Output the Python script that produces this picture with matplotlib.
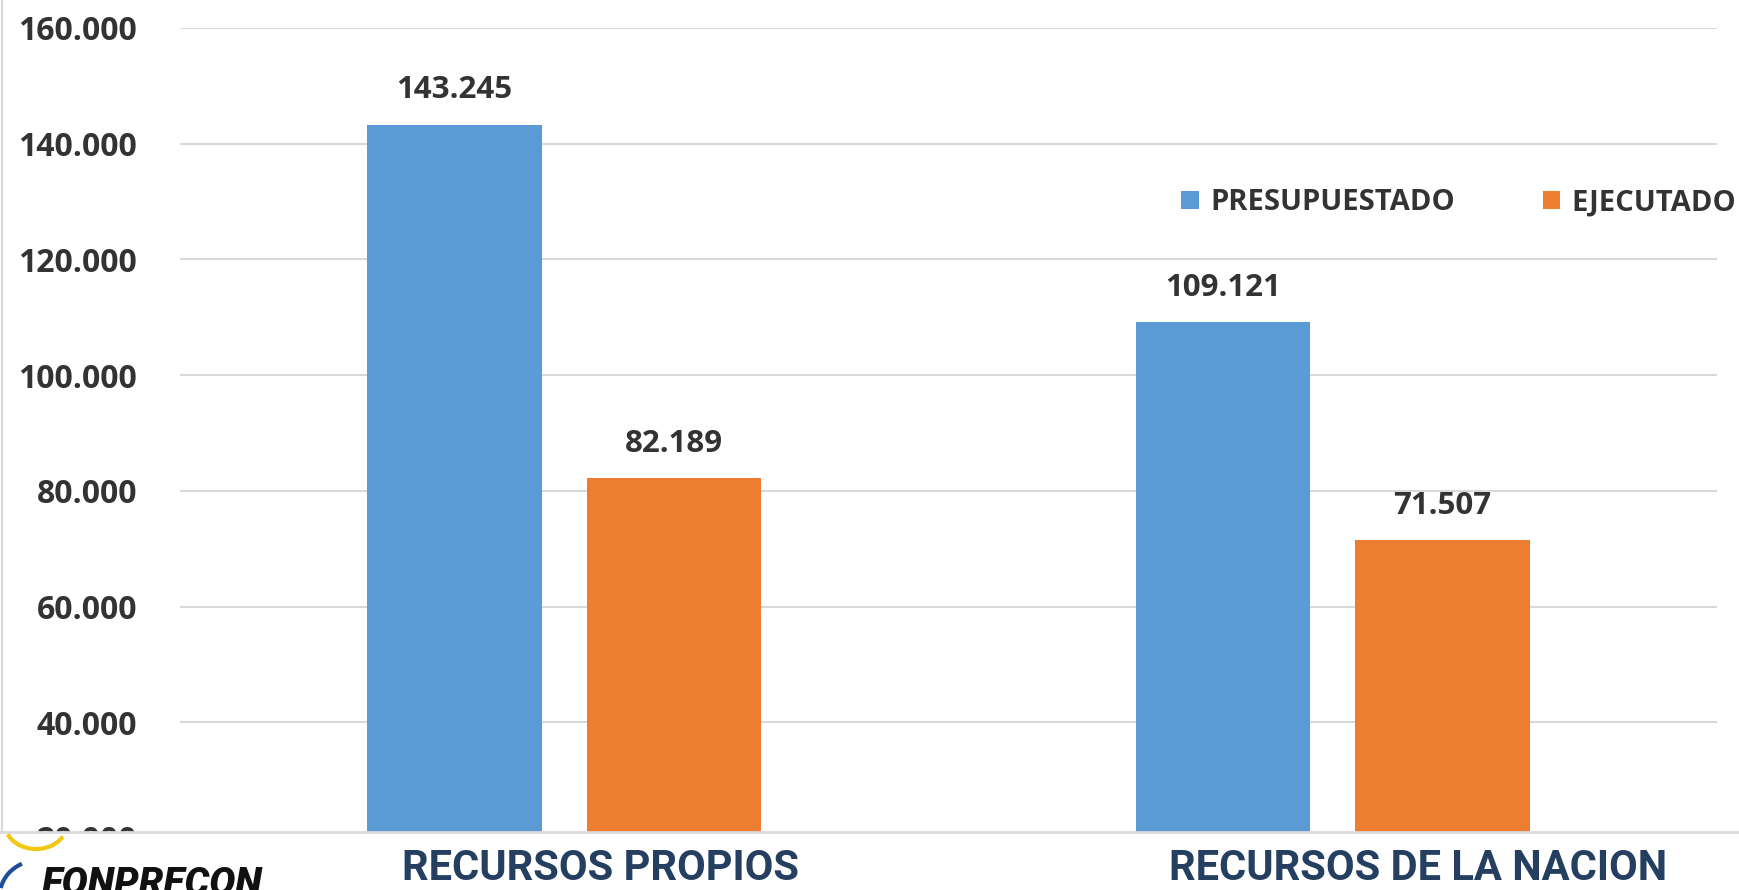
import matplotlib.pyplot as plt
import numpy as np
from matplotlib.patches import Rectangle, Arc
from matplotlib.lines import Line2D

categories = ['RECURSOS PROPIOS', 'RECURSOS DE LA NACION']
presupuestado = [143245, 109121]
ejecutado = [82189, 71507]
series = ['PRESUPUESTADO', 'EJECUTADO']
yticks = [20000, 40000, 60000, 80000, 100000, 120000, 140000, 160000]

blue = '#5B9BD5'
orange = '#ED7D31'
txt = '#333333'
navy = '#253F60'
grid = '#D9D9D9'

W, H = 1739, 890
fig = plt.figure(figsize=(W / 100, H / 100), dpi=100)

def fmt(v):
    return '{:,}'.format(v).replace(',', '.')

num_font = ['Open Sans', 'DejaVu Sans']
cat_font = ['Roboto', 'DejaVu Sans']

# axes: 160.000 at y=28px, 20.000 at y=838px
top_px, bot_px = 28, 838
ax = fig.add_axes([180 / W, 1 - bot_px / H, (1717 - 180) / W, (bot_px - top_px) / H])

x = np.arange(len(categories))
w = 0.227
off = 0.143
b1 = ax.bar(x - off, presupuestado, w, color=blue, label=series[0], zorder=3)
b2 = ax.bar(x + off, ejecutado, w, color=orange, label=series[1], zorder=3)

for bars, vals in [(b1, presupuestado), (b2, ejecutado)]:
    for r, v in zip(bars, vals):
        ax.annotate(fmt(v), (r.get_x() + r.get_width() / 2, v), xytext=(0, 14),
                    textcoords='offset points', ha='center', va='bottom',
                    fontsize=22.5, fontweight='bold', color=txt, family=num_font)

ax.set_xlim(-0.5, 1.5)
ax.set_ylim(20000, 160000)
ax.set_yticks(yticks)
ax.set_yticklabels([fmt(t) for t in yticks], fontsize=23, fontweight='bold',
                   color=txt, family=num_font)
ax.tick_params(axis='y', length=0, pad=31)
ax.tick_params(axis='x', length=0, labelbottom=False)
ax.yaxis.grid(True, color=grid, linewidth=1.5, zorder=0)
for s in ax.spines.values():
    s.set_visible(False)

leg = ax.legend(loc='center left', bbox_to_anchor=(1155 / W, 1 - 203 / H),
                bbox_transform=fig.transFigure, ncol=2, frameon=False,
                handlelength=0.6, handleheight=0.6, handletextpad=0.4,
                columnspacing=3.0, prop={'family': num_font, 'weight': 'bold', 'size': 21})
for t in leg.get_texts():
    t.set_color(txt)

# white band pasted below the chart
cut = (H - 831.5) / H
fig.add_artist(Rectangle((0, 0), 1, cut, transform=fig.transFigure,
                         facecolor='white', edgecolor='none', zorder=10))
fig.add_artist(Line2D([0, 1], [cut, cut], transform=fig.transFigure,
                      color=grid, linewidth=2, zorder=11))
fig.add_artist(Line2D([1.5 / W, 1.5 / W], [cut, 1], transform=fig.transFigure,
                      color=grid, linewidth=1.5, zorder=11))

fig.text(600 / W, 1 - 848 / H, categories[0], ha='center', va='top', fontsize=30,
         fontweight='bold', color=navy, family=cat_font, zorder=12)
fig.text(1418 / W, 1 - 848 / H, categories[1], ha='center', va='top', fontsize=30,
         fontweight='bold', color=navy, family=cat_font, zorder=12)

# logo bits
fig.add_artist(Arc((0.36, 0.66), 0.62, 0.50, theta1=200, theta2=335,
                   transform=fig.dpi_scale_trans, color='#F2C80F', linewidth=3, zorder=12))
fig.add_artist(Arc((0.40, -0.05), 0.80, 0.70, theta1=120, theta2=170,
                   transform=fig.dpi_scale_trans, color='#1F4E9C', linewidth=3, zorder=12))
fig.text(42 / W, 1 - 866 / H, 'FONPRECON', ha='left', va='top', fontsize=28,
         fontweight='heavy', style='italic', color='#111111',
         family=['Roboto', 'DejaVu Sans'], zorder=12)

fig.savefig('out.png', dpi=100)
